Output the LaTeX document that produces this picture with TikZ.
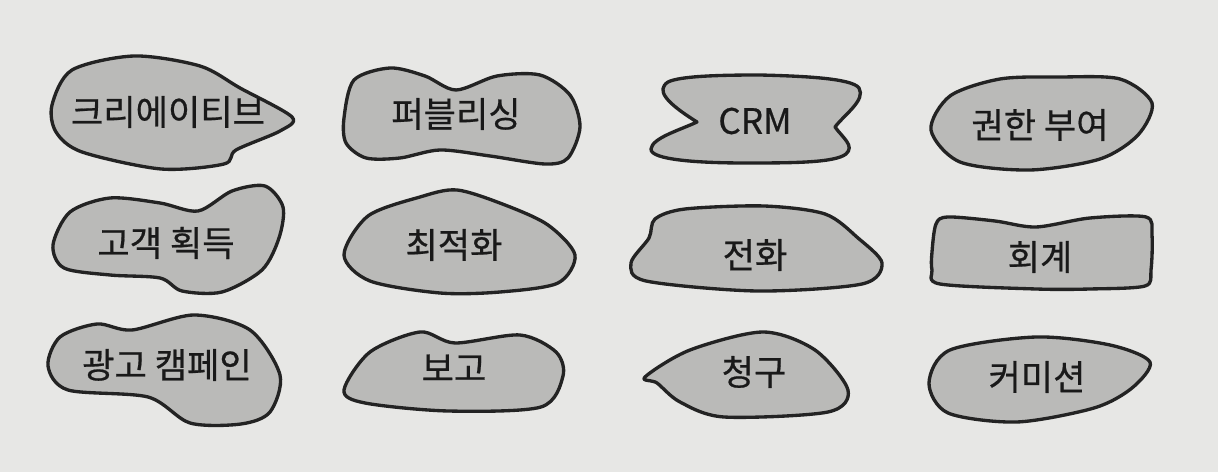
\documentclass[tikz,border=0pt]{standalone}
\usepackage{fontspec}
\newfontfamily\kofont{Noto Sans CJK KR}[FakeBold=0.6]
\definecolor{paper}{RGB}{231,231,229}
\definecolor{blobfill}{RGB}{186,186,184}
\definecolor{blobline}{RGB}{35,35,35}
\begin{document}
\begin{tikzpicture}[x=0.02cm, y=-0.02cm,
    blob/.style={fill=blobfill, draw=blobline, line width=1.9pt, line join=round},
    label/.style={font=\kofont\fontsize{20}{22}\selectfont, text=black!90, inner sep=0pt}]
        % Background
        \fill[paper] (0,0) rectangle (1218,472);
        % Row 1
        \draw[blob] plot[smooth cycle] coordinates {(52,105) (72,70) (134,56) (200,66) (240,88) (292,117) (280,131) (236,150) (224,164) (161,169) (82,152) (56,132)};
        \node[label] (creative) at (168,112) {크리에이티브};
        \draw[blob] plot[smooth cycle] coordinates {(344,118) (354,80) (390,68) (425,76) (456,90) (497,76) (540,75) (570,95) (580,127) (568,158) (545,164) (490,156) (440,150) (400,158) (366,158) (346,143)};
        \node[label] (publishing) at (456,114) {퍼블리싱};
        \draw[blob] (697,122) .. controls (680,130) and (652,138) .. (651,149)
            .. controls (650,160) and (700,163) .. (745,163)
            .. controls (790,163) and (835,163) .. (846,154)
            .. controls (855,146) and (843,138) .. (835,127)
            .. controls (845,114) and (866,100) .. (859,88)
            .. controls (852,78) and (800,76) .. (760,75)
            .. controls (720,75) and (680,76) .. (668,82)
            .. controls (656,90) and (665,102) .. (697,122) -- cycle;
        \node[label] (crm) at (755,121) {CRM};
        \draw[blob] plot[smooth cycle] coordinates {(931,130) (950,96) (1000,79) (1060,77) (1120,79) (1152,103) (1138,135) (1100,159) (1030,170) (960,162)};
        \node[label] (authz) at (1040,125) {권한 부여};
        % Row 2
        \draw[blob] plot[smooth cycle] coordinates {(53,245) (70,212) (110,198) (160,203) (198,211) (232,191) (265,186) (283,207) (279,238) (262,270) (222,292) (182,291) (160,278) (110,275) (64,268)};
        \node[label] (acquire) at (166,243) {고객 획득};
        \draw[blob] plot[smooth cycle] coordinates {(344,255) (368,216) (420,197) (457,190) (505,205) (548,225) (575,255) (558,283) (500,292) (440,293) (370,281)};
        \node[label] (optimize) at (454,245) {최적화};
        \draw[blob] plot[smooth cycle] coordinates {(631,263) (649,238) (655,219) (685,209) (764,206) (825,214) (858,238) (882,263) (862,284) (757,291) (646,281)};
        \node[label] (call) at (755,255) {전화};
        \draw[blob] plot[smooth cycle] coordinates {(932,252) (936,224) (948,217) (995,221) (1036,227) (1090,218) (1146,217) (1152,235) (1151,270) (1145,286) (1090,289) (1036,289) (940,284) (932,270)};
        \node[label] (accounting) at (1040,257) {회계};
        % Row 3
        \draw[blob] plot[smooth cycle] coordinates {(48,366) (60,337) (97,324) (132,330) (194,315) (250,330) (280,375) (270,412) (241,424) (190,423) (148,397) (68,390)};
        \node[label] (campaign) at (167,365) {광고 캠페인};
        \draw[blob] plot[smooth cycle] coordinates {(344,390) (370,352) (420,332) (455,343) (520,335) (556,352) (563,376) (541,407) (448,411) (365,403)};
        \node[label] (report) at (454,368) {보고};
        \draw[blob] plot[smooth cycle] coordinates {(645,377) (690,350) (763,332) (815,350) (848,390) (828,412) (724,417) (680,402) (657,383)};
        \node[label] (billing) at (754,372) {청구};
        \draw[blob] plot[smooth cycle] coordinates {(929,383) (950,350) (1036,337) (1110,345) (1150,362) (1132,388) (1094,408) (1017,422) (948,413)};
        \node[label] (commission) at (1037,377) {커미션};
\end{tikzpicture}
\end{document}
